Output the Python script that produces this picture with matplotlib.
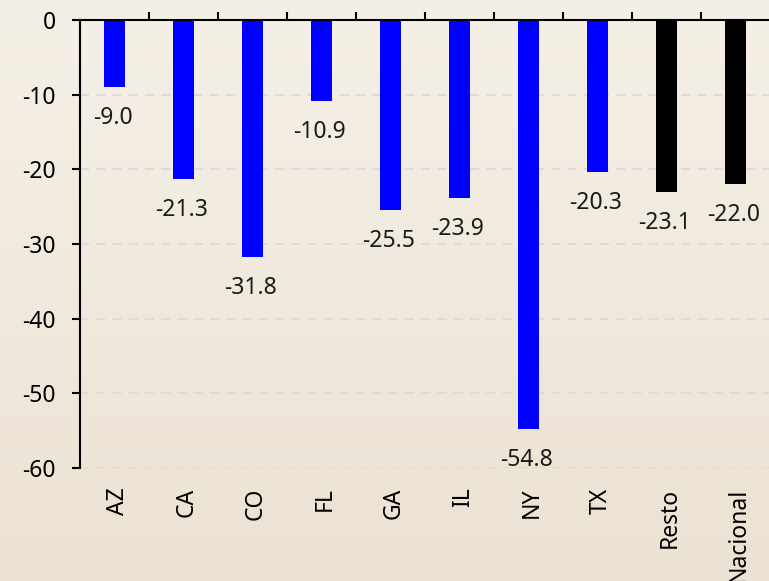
import matplotlib
matplotlib.use("Agg")
import matplotlib.pyplot as plt
import matplotlib.transforms as mtransforms
import numpy as np

categories = ["AZ", "CA", "CO", "FL", "GA", "IL", "NY", "TX", "Resto", "Nacional"]
values = [-9.0, -21.3, -31.8, -10.9, -25.5, -23.9, -54.8, -20.3, -23.1, -22.0]
colors = ["#0000ff"] * 8 + ["#000000"] * 2
yticks = [0, -10, -20, -30, -40, -50, -60]

plt.rcParams['font.family'] = ['Noto Sans', 'DejaVu Sans']

fig = plt.figure(figsize=(7.69, 5.81), dpi=100)
# gradient background
bg = fig.add_axes([0, 0, 1, 1], zorder=-10)
top = np.array([245, 240, 231]) / 255
bot = np.array([236, 226, 211]) / 255
t = np.linspace(0, 1, 256)[:, None]
grad = top[None, :] * (1 - t) + bot[None, :] * t
bg.imshow(grad[:, None, :], aspect='auto', extent=[0, 1, 0, 1])
bg.set_axis_off()

W, H = 769, 581
x0, x1 = 80, 770
y_top, y_bot = 20, 468
ax = fig.add_axes([x0 / W, 1 - y_bot / H, (x1 - x0) / W, (y_bot - y_top) / H])
ax.patch.set_alpha(0)

FS = 16.5
x = np.arange(len(categories))
ax.bar(x, values, width=0.29, color=colors, zorder=3)
for xi, v in zip(x, values):
    ax.annotate(f"{v:.1f}", (xi, v), xytext=(-2, -31), textcoords='offset pixels',
                ha='center', va='center', fontsize=FS, color='#1a1a1a', zorder=4)

ax.set_xlim(-0.5, len(categories) - 0.5)
ax.set_ylim(-60, 0)
ax.set_yticks(yticks)
ax.set_yticklabels([str(v) for v in yticks], fontsize=FS)
ax.yaxis.grid(True, linestyle=(0, (5, 4)), color='#d9d9dd', linewidth=1.3, zorder=0)

for s in ['right', 'bottom']:
    ax.spines[s].set_visible(False)
ax.spines['left'].set_linewidth(1.5)
ax.spines['top'].set_linewidth(1.5)
ax.spines['top'].set_zorder(5)

ax.tick_params(axis='y', direction='out', length=5.5, width=1.5, pad=12)
# category tick labels at bottom, boundary ticks on top
ax.set_xticks(x)
ax.set_xticklabels(categories, rotation=90, fontsize=FS, va='top')
ax.tick_params(axis='x', which='major', length=0, pad=14)
shift = mtransforms.ScaledTranslation(3.5 / 100, 0, fig.dpi_scale_trans)
for lbl in ax.get_xticklabels():
    lbl.set_transform(lbl.get_transform() + shift)
ax.set_xticks(np.arange(0.5, len(categories) - 0.5, 1), minor=True)
ax.tick_params(axis='x', which='minor', top=True, bottom=False, direction='out', length=5.5, width=1.5)

fig.savefig("out.png", dpi=100)
